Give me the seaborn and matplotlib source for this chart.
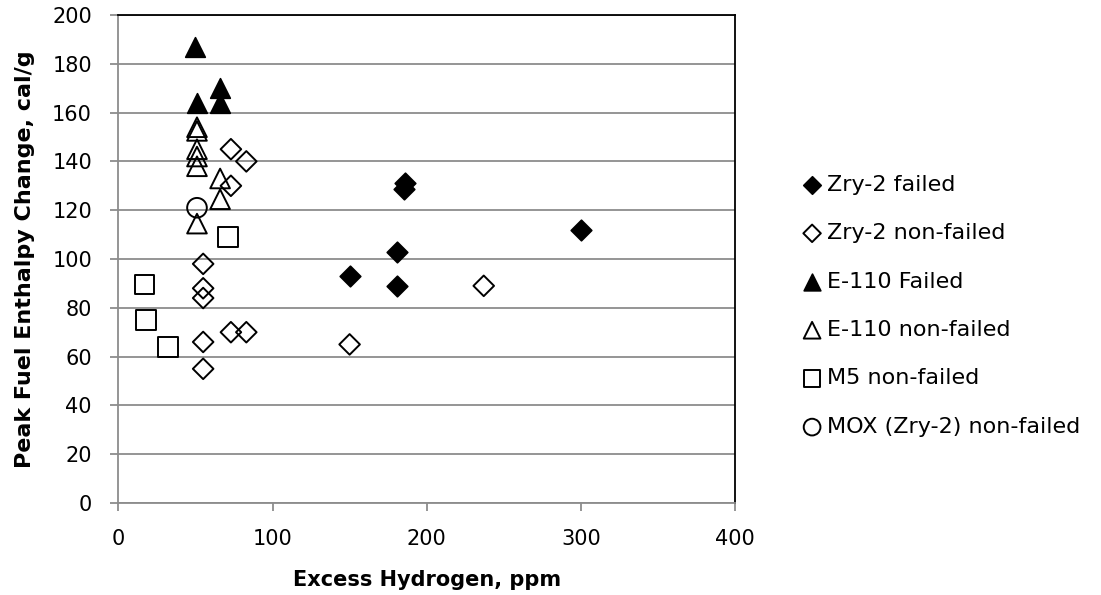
import matplotlib
matplotlib.use("Agg")
import matplotlib.pyplot as plt
import seaborn as sns
import pandas as pd

# ---- data ----
zry2_failed_x = [186, 185, 300, 181, 181, 150]
zry2_failed_y = [131, 128.5, 112, 103, 89, 93]

zry2_nonfailed_x = [73, 83, 73, 55, 55, 55, 55, 55, 73, 83, 237, 150]
zry2_nonfailed_y = [145, 140, 130, 98, 88, 84, 66, 55, 70, 70, 89, 65]

e110_failed_x = [50, 51, 66, 66]
e110_failed_y = [187, 164, 170, 164]

e110_nonfailed_x = [51, 51, 51, 51, 51, 66, 66, 51]
e110_nonfailed_y = [154, 152.5, 145, 142, 138, 133, 124.5, 114.5]

m5_nonfailed_x = [71, 17, 18, 32]
m5_nonfailed_y = [109, 89.5, 75, 64]

mox_nonfailed_x = [51]
mox_nonfailed_y = [121]

series_labels = ["Zry-2 failed", "Zry-2 non-failed", "E-110 Failed",
                 "E-110 non-failed", "M5 non-failed", "MOX (Zry-2) non-failed"]
x_ticks = [0, 100, 200, 300, 400]
y_ticks = [0, 20, 40, 60, 80, 100, 120, 140, 160, 180, 200]

series = [
    (series_labels[0], zry2_failed_x, zry2_failed_y, "D", True, 110),
    (series_labels[1], zry2_nonfailed_x, zry2_nonfailed_y, "D", False, 110),
    (series_labels[2], e110_failed_x, e110_failed_y, "^", True, 200),
    (series_labels[3], e110_nonfailed_x, e110_nonfailed_y, "^", False, 200),
    (series_labels[4], m5_nonfailed_x, m5_nonfailed_y, "s", False, 200),
    (series_labels[5], mox_nonfailed_x, mox_nonfailed_y, "o", False, 200),
]

sns.set_style("white")
plt.rcParams["font.family"] = ["DejaVu Sans"]
plt.rcParams["text.color"] = "black"
plt.rcParams["axes.labelcolor"] = "black"
plt.rcParams["xtick.labelcolor"] = "black"
plt.rcParams["ytick.labelcolor"] = "black"

fig = plt.figure(figsize=(11.01, 5.95), dpi=100)
ax = fig.add_axes([0.1075, 0.1546, 0.5601, 0.8202])

for lab, xs, ys, mk, filled, s in series:
    df = pd.DataFrame({"x": xs, "y": ys})
    if filled:
        sns.scatterplot(data=df, x="x", y="y", marker=mk, s=s, color="black",
                        edgecolor="black", linewidth=1.2, label=lab, ax=ax, zorder=3)
    else:
        sns.scatterplot(data=df, x="x", y="y", marker=mk, s=s, facecolor="none",
                        edgecolor="black", linewidth=1.4, label=lab, ax=ax, zorder=3)

ax.set_xlim(0, 400)
ax.set_ylim(0, 200)
ax.set_xticks(x_ticks)
ax.set_yticks(y_ticks)
ax.yaxis.grid(True, color="#8c8c8c", linewidth=1.3)
ax.xaxis.grid(False)
ax.set_axisbelow(True)

for side in ["left", "bottom"]:
    ax.spines[side].set_color("#8c8c8c")
    ax.spines[side].set_linewidth(1.3)
for side in ["top", "right"]:
    ax.spines[side].set_visible(True)
    ax.spines[side].set_color("black")
    ax.spines[side].set_linewidth(1.3)

ax.tick_params(axis="both", which="both", direction="out", length=6, width=1.3,
               color="#8c8c8c", labelsize=15, labelcolor="black", left=True, bottom=True)
ax.tick_params(axis="x", pad=12.5)
ax.tick_params(axis="y", pad=13)

ax.set_xlabel("Excess Hydrogen, ppm", fontsize=15, fontweight="bold", labelpad=15, color="black")
ax.set_ylabel("Peak Fuel Enthalpy Change, cal/g", fontsize=16, fontweight="bold", labelpad=12, color="black")

leg = ax.legend(loc="center left", bbox_to_anchor=(0.7275, 0.486),
                bbox_transform=fig.transFigure, frameon=False, fontsize=16,
                labelspacing=1.28, handletextpad=0.18, handlelength=1.0,
                borderaxespad=0, borderpad=0, markerscale=0.85)
for t in leg.get_texts():
    t.set_color("black")

fig.savefig("out.png", dpi=100)
